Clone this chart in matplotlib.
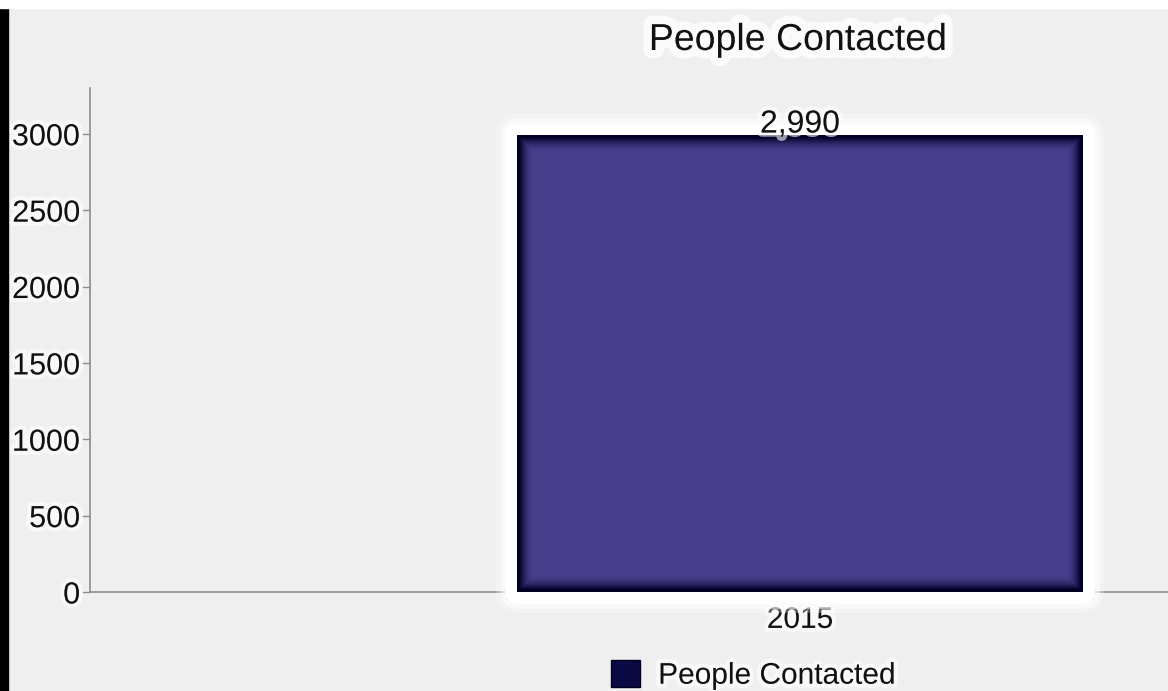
import matplotlib
matplotlib.use("Agg")
import matplotlib.pyplot as plt
import matplotlib.patheffects as pe
from matplotlib.patches import Rectangle
import numpy as np

years = ["2015"]
people = [2990]
series_name = "People Contacted"
yticks = [0, 500, 1000, 1500, 2000, 2500, 3000]

plt.rcParams['font.family'] = ['Liberation Sans', 'DejaVu Sans']

bg = '#efefef'
bar_color = '#483d8b'
edge_dark = (0.01, 0.0, 0.15)
glow = [pe.withStroke(linewidth=6, foreground='white', alpha=0.6)]

fig = plt.figure(figsize=(11.68, 6.91), dpi=100, facecolor=bg)
ax = fig.add_axes([90 / 1168, 99 / 691, 1 - 90 / 1168, 504 / 691])
ax.set_facecolor(bg)

# frame strips from the screenshot
fig.patches.append(Rectangle((0, 0), 8 / 1168, 1, transform=fig.transFigure,
                             color='black', zorder=10))
fig.patches.append(Rectangle((0, 1 - 8 / 691), 1, 8 / 691, transform=fig.transFigure,
                             color='white', zorder=10))

ax.set_xlim(-1, 368 / 710)
ax.set_ylim(0, 3300)

xpos = list(range(len(years)))
bars = ax.bar(xpos, people, width=0.796, color=bar_color, zorder=3, clip_on=False)
for b in bars:
    b.set_joinstyle('round')
    b.set_path_effects([pe.Stroke(linewidth=30, foreground='white', alpha=0.3),
                        pe.Stroke(linewidth=24, foreground='white', alpha=0.5),
                        pe.Stroke(linewidth=17, foreground='white', alpha=1.0),
                        pe.Normal()])
    # inner shadow: dark edge fading toward the middle
    x0, y0 = b.get_xy()
    w, h = b.get_width(), b.get_height()
    (px0, py0), (px1, py1) = ax.transData.transform([(x0, y0), (x0 + w, y0 + h)])
    nw, nh = int(round(px1 - px0)), int(round(py1 - py0))
    gx = np.arange(nw) + 0.5
    gy = np.arange(nh) + 0.5
    dx = np.minimum(gx, nw - gx)[None, :]
    dy = np.minimum(gy, nh - gy)[:, None]
    d = np.minimum(dx, dy)
    alpha = np.clip(1 - (d - 2.5) / 14, 0, 1) ** 1.8
    img = np.zeros((nh, nw, 4))
    img[..., 0], img[..., 1], img[..., 2] = edge_dark
    img[..., 3] = alpha
    ax.imshow(img, extent=(x0, x0 + w, y0, y0 + h), aspect='auto', zorder=4,
              interpolation='bilinear', clip_on=False)

for x, v in zip(xpos, people):
    t = ax.annotate(f"{v:,}", (x, v), xytext=(0, 2), textcoords='offset points',
                    ha='center', va='baseline', fontsize=23, color='#111111', zorder=6)
    t.set_path_effects(glow)

ax.set_xlim(-1, 368 / 710)
ax.set_ylim(0, 3300)
ax.set_yticks(yticks)
ax.set_xticks(xpos)
ax.set_xticklabels(years)

for s in ['top', 'right']:
    ax.spines[s].set_visible(False)
for s in ['left', 'bottom']:
    ax.spines[s].set_color('#8c8c8c')
    ax.spines[s].set_linewidth(1.2)

ax.tick_params(axis='y', length=6, width=1, color='#8c8c8c', pad=1, labelsize=22,
               labelcolor='#111111')
ax.tick_params(axis='x', length=0, pad=10, labelsize=21.5, labelcolor='#111111')
for lab in ax.get_yticklabels() + ax.get_xticklabels():
    lab.set_path_effects(glow)

title = fig.text(798 / 1168, 1 - 40 / 691, series_name, ha='center', va='center',
                 fontsize=27, color='#111111')
title.set_path_effects([pe.withStroke(linewidth=12, foreground='white', alpha=0.8)])

handle = Rectangle((0, 0), 1, 1, facecolor='#0b0a45', edgecolor='#000020')
leg = fig.legend([handle], [series_name], loc='center left',
                 bbox_to_anchor=(611 / 1168, 16 / 691), frameon=False,
                 fontsize=21.5, handlelength=0.98, handleheight=0.98,
                 handletextpad=0.6, borderpad=0, borderaxespad=0)
for txt in leg.get_texts():
    txt.set_color('#111111')
    txt.set_path_effects(glow)

fig.savefig('out.png', dpi=100, facecolor=bg)
